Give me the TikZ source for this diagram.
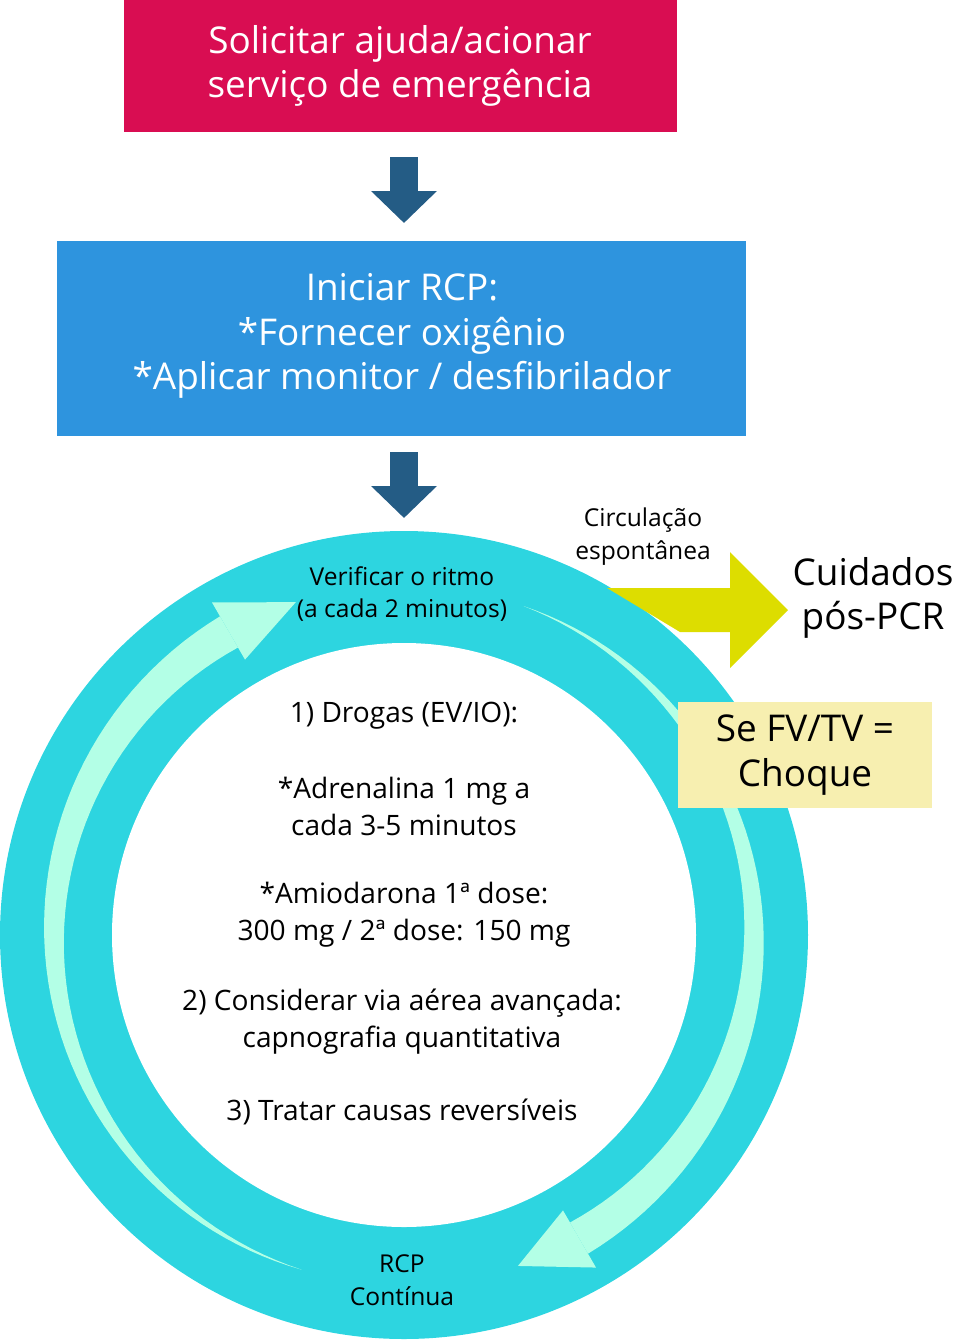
\documentclass[tikz,border=0pt]{standalone}
\usepackage{fontspec}
\setmainfont{Open Sans}
\usetikzlibrary{arrows.meta}

\definecolor{crimson}{HTML}{D90D52}
\definecolor{skyblue}{HTML}{2E94DE}
\definecolor{ringcyan}{HTML}{2DD5E0}
\definecolor{mint}{HTML}{B3FFE6}
\definecolor{lemon}{HTML}{DDDD00}
\definecolor{paleyel}{HTML}{F7EFB0}
\definecolor{navy}{HTML}{245C85}

\tikzset{
  box/.style={draw=none, inner sep=0pt, text=white, align=center},
  flowarrow/.style={navy, line width=28*0.02cm,
    -{Triangle[length=32*0.02cm, width=64*0.02cm]}},
  big/.style={font=\fontsize{21}{25.5}\selectfont, align=center},
  body/.style={font=\fontsize{16}{21}\selectfont, align=center},
  small/.style={font=\fontsize{14}{18.7}\selectfont, align=center}
}

\begin{document}
\begin{tikzpicture}[x=0.02cm, y=-0.02cm]
        \useasboundingbox (0,0) rectangle (957,1340);

        % Top and middle boxes
        \fill[crimson] (124,0) rectangle (677,132);
        \node[box, big] (ajuda) at (400,66) {Solicitar ajuda/acionar\\serviço de emergência};
        \fill[skyblue] (57,241) rectangle (746,436);
        \node[box, big] (rcp) at (402,336) {Iniciar RCP:\\*Fornecer oxigênio\\*Aplicar monitor / desfibrilador};
        \coordinate (a1) at (404,157);
        \coordinate (b1) at (404,223);
        \coordinate (a2) at (404,452);
        \coordinate (b2) at (404,518);
        \draw[flowarrow] (a1) -- (b1);
        \draw[flowarrow] (a2) -- (b2);

        % The ring
        \fill[ringcyan] (404,935) circle[radius=404];
        \fill[white] (404,935) circle[radius=292];

        % Left light arrow (bottom up to top)
        \fill[mint] plot[domain=253:120, samples=60]
              ({404+(350+18*(253-\x)/133)*cos(\x)}, {935-(350+18*(253-\x)/133)*sin(\x)})
          -- plot[domain=120:253, samples=60]
              ({404+(350-18*(253-\x)/133)*cos(\x)}, {935-(350-18*(253-\x)/133)*sin(\x)})
          -- cycle;
        \fill[mint] ({404+318*cos(120)},{935-318*sin(120)})
          -- ({404+384*cos(120)},{935-384*sin(120)})
          -- ({404+350*cos(108)},{935-350*sin(108)}) -- cycle;

        % Right light arrow (top down to bottom)
        \fill[mint] plot[domain=70:-60, samples=60]
              ({404+(350+18*(70-\x)/130)*cos(\x)}, {935-(350+18*(70-\x)/130)*sin(\x)})
          -- plot[domain=-60:70, samples=60]
              ({404+(350-18*(70-\x)/130)*cos(\x)}, {935-(350-18*(70-\x)/130)*sin(\x)})
          -- cycle;
        \fill[mint] ({404+318*cos(-60)},{935-318*sin(-60)})
          -- ({404+384*cos(-60)},{935-384*sin(-60)})
          -- ({404+350*cos(-71)},{935-350*sin(-71)}) -- cycle;

        % Yellow exit arrow
        \fill[lemon] (607,588) -- (730,588) -- (730,552) -- (788,610)
          -- (730,668) -- (730,632) -- (680,632) -- cycle;

        % Labels on the ring
        \node[small] (ritmo) at (402,594) {Verificar o ritmo\\(a cada 2 minutos)};
        \node[small] (continua) at (402,1280) {RCP\\Contínua};
        \node[small] (circ) at (643,537) {Circulação\\espontânea};
        \node[big] (pos) at (873,598) {Cuidados\\pós-PCR};
        \node[big, fill=paleyel, minimum width=254*0.02cm, minimum height=106*0.02cm]
          (choque) at (805,755) {Se FV/TV =\\Choque};

        % Text inside the ring
        \node[body] (drogas) at (404,716) {1) Drogas (EV/IO):};
        \node[body] (adren) at (404,806) {*Adrenalina 1 mg a\\cada 3-5 minutos};
        \node[body] (amio) at (404,915) {*Amiodarona 1ª dose:\\300 mg / 2ª dose: 150 mg};
        \node[body] (via) at (402,1022) {2) Considerar via aérea avançada:\\capnografia quantitativa};
        \node[body] (causas) at (402,1112) {3) Tratar causas reversíveis};
\end{tikzpicture}
\end{document}
